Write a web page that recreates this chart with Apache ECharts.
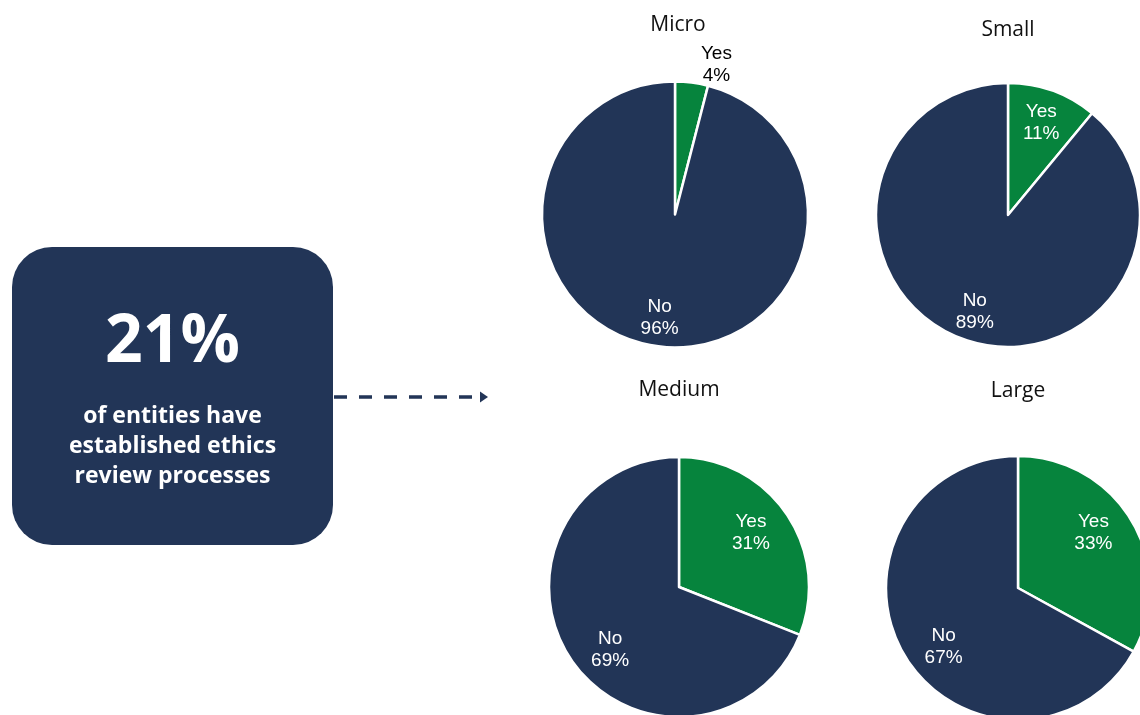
<!DOCTYPE html>
<html>
<head>
<meta charset="utf-8">
<style>
html,body{margin:0;padding:0;background:#fff;}
#main{width:1140px;height:715px;}
</style>
<script src="https://cdn.jsdelivr.net/npm/echarts@6/dist/echarts.min.js"></script>
</head>
<body>
<div id="main"></div>
<script>
// ---- data ----
const categories = ['Yes', 'No'];
const groups = ['Micro', 'Small', 'Medium', 'Large'];
const yesValues = [4, 11, 31, 33];
const noValues = [96, 89, 69, 67];
const headline = '21%';
const headlineText = 'of entities have\nestablished ethics\nreview processes';

// ---- layout / style ----
const NAVY = '#223557';
const GREEN = '#06843D';
const pieCenters = [[675, 214.5], [1008, 215], [679, 587], [1018, 588]];
const pieRadii = [133, 132, 130, 132];
const titlePos = [[678, 15], [1008, 20], [679, 380], [1018, 381]];
// per-label nudges [yesOffset, noOffset] (style only)
const labelNudges = [
  [[29, -52], [-3, 5]],
  [[0, 0], [0, 5]],
  [[-8, 0], [11, 8]],
  [[-9, -5], [10, 9]]
];

const chart = echarts.init(document.getElementById('main'), null, {renderer: 'canvas'});

const series = [];
const titles = [];
groups.forEach((g, i) => {
  const data = [
    {name: categories[0], value: yesValues[i], itemStyle: {color: GREEN}},
    {name: categories[1], value: noValues[i], itemStyle: {color: NAVY}}
  ];
  series.push({
    type: 'pie',
    center: pieCenters[i],
    radius: [0, pieRadii[i]],
    startAngle: 90,
    clockwise: true,
    silent: true,
    animation: false,
    avoidLabelOverlap: false,
    itemStyle: {borderColor: '#fff', borderWidth: 2.5},
    label: {show: false},
    labelLine: {show: false},
    emphasis: {disabled: true},
    data: data
  });
  // label ring (transparent) to place labels at ~0.72 r
  const labelData = [
    {name: categories[0], value: yesValues[i], label: {offset: labelNudges[i][0]}},
    {name: categories[1], value: noValues[i], label: {offset: labelNudges[i][1]}}
  ];
  if (i === 0) {
    labelData[0].label.color = '#000';
  }
  series.push({
    type: 'pie',
    center: pieCenters[i],
    radius: [pieRadii[i] * 0.44, pieRadii[i]],
    startAngle: 90,
    clockwise: true,
    silent: true,
    animation: false,
    avoidLabelOverlap: false,
    itemStyle: {color: 'rgba(0,0,0,0)', borderWidth: 0},
    label: {
      show: true,
      position: 'inside',
      formatter: '{b}\n{c}%',
      color: '#fff',
      fontFamily: 'Liberation Sans, Arial, sans-serif',
      fontSize: 19,
      lineHeight: 22,
      align: 'center'
    },
    labelLine: {show: false},
    emphasis: {disabled: true},
    data: labelData
  });
  titles.push({
    text: g,
    left: titlePos[i][0],
    top: titlePos[i][1],
    padding: 0,
    textAlign: 'center',
    textStyle: {fontFamily: 'Open Sans, sans-serif', fontSize: 21, fontWeight: 'normal', color: '#111'}
  });
});

const option = {
  animation: false,
  title: titles,
  series: series,
  graphic: [
    {
      type: 'rect',
      shape: {x: 12, y: 247, width: 321, height: 298, r: 40},
      style: {fill: NAVY},
      silent: true
    },
    {
      type: 'text',
      x: 172.5, y: 343,
      style: {
        text: headline,
        fill: '#fff',
        font: 'bold 66px "Open Sans", sans-serif',
        textAlign: 'center',
        textVerticalAlign: 'middle'
      },
      silent: true
    },
    {
      type: 'text',
      x: 172.5, y: 446,
      style: {
        text: headlineText,
        fill: '#fff',
        font: 'bold 23px "Open Sans", sans-serif',
        lineHeight: 30,
        textAlign: 'center',
        textVerticalAlign: 'middle'
      },
      silent: true
    },
    {
      type: 'line',
      shape: {x1: 334, y1: 397, x2: 478, y2: 397},
      style: {stroke: NAVY, lineWidth: 3.5, lineDash: [13, 12]},
      silent: true
    },
    {
      type: 'polygon',
      shape: {points: [[480, 391.5], [488, 397], [480, 402.5]]},
      style: {fill: NAVY},
      silent: true
    }
  ]
};
chart.setOption(option);
</script>
</body>
</html>
